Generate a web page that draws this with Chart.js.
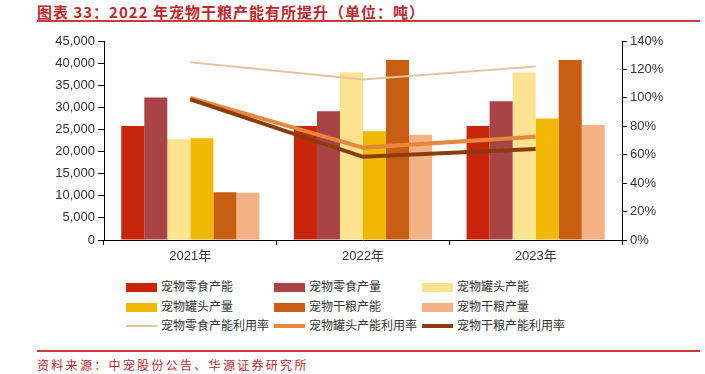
<!DOCTYPE html>
<html>
<head>
<meta charset="utf-8">
<script src="https://cdn.jsdelivr.net/npm/chart.js@4/dist/chart.umd.min.js"></script>
<style>
  body { margin: 0; background: #fff; width: 705px; height: 374px; position: relative; overflow: hidden;
         font-family: "Noto Sans CJK SC", "Liberation Sans", sans-serif; }
  #title { position: absolute; left: 37px; top: 1px; font-size: 15px; color: #c0282d; font-weight: bold; white-space: nowrap; letter-spacing: 1px; }
  .rule { position: absolute; left: 37px; width: 663px; height: 2px; background: #d0393c; }
  #source { position: absolute; left: 37px; top: 356px; font-size: 12px; color: #c0282d; white-space: nowrap; letter-spacing: 2.3px; }
  #wrap { position: absolute; left: 0; top: 25px; width: 705px; height: 240px; }
  .lg { position: absolute; font-size: 12px; color: #333; white-space: nowrap; line-height: 14px; }
  .sw { position: absolute; width: 31px; }
</style>
</head>
<body>
<div id="title">图表 33：2022 年宠物干粮产能有所提升（单位：吨）</div>
<div class="rule" style="top:20px"></div>
<div id="wrap"><canvas id="chart" width="705" height="240"></canvas></div>
<div id="legend"></div>
<div class="rule" style="top:350px"></div>
<div id="source">资料来源：中宠股份公告、华源证券研究所</div>
<script>
// categories and series (吨 / %)
const years = ['2021年', '2022年', '2023年'];
const snackCap = [25800, 25800, 25800];
const snackOut = [32200, 29100, 31400];
const canCap = [22800, 37900, 37900];
const canOut = [23000, 24600, 27500];
const dryCap = [10800, 40700, 40700];
const dryOut = [10700, 23800, 26000];
const snackRate = [1.25, 1.13, 1.22];
const canRate = [1.00, 0.65, 0.727];
const dryRate = [0.99, 0.585, 0.64];

const barNames = ['宠物零食产能', '宠物零食产量', '宠物罐头产能', '宠物罐头产量', '宠物干粮产能', '宠物干粮产量'];
const barData = [snackCap, snackOut, canCap, canOut, dryCap, dryOut];
const barColors = ['#c8250a', '#a84446', '#fde290', '#f0b800', '#c85e12', '#f5b183'];

const lineNames = ['宠物零食产能利用率', '宠物罐头产能利用率', '宠物干粮产能利用率'];
const lineData = [snackRate, canRate, dryRate];
const lineColors = ['#e2c69e', '#e8863a', '#8a3c0c'];
const lineWidths = [2, 4, 4];

const datasets = [];
barNames.forEach((name, i) => {
  datasets.push({
    label: name, data: barData[i], backgroundColor: barColors[i],
    yAxisID: 'y', order: 2, categoryPercentage: 0.8, barPercentage: 1.0
  });
});
lineNames.forEach((name, i) => {
  datasets.push({
    type: 'line', label: name, data: lineData[i], borderColor: lineColors[i],
    borderWidth: lineWidths[i], pointRadius: 0, tension: 0, yAxisID: 'y1', order: 1 - i * 0.1, fill: false
  });
});

const tickFont = { family: 'Liberation Sans', size: 13 };

new Chart(document.getElementById('chart').getContext('2d'), {
  type: 'bar',
  data: { labels: years, datasets: datasets },
  options: {
    responsive: false,
    animation: false,
    devicePixelRatio: 1,
    layout: { padding: { top: 16, left: 0, right: 0, bottom: 0 } },
    plugins: { legend: { display: false }, tooltip: { enabled: false } },
    scales: {
      x: {
        offset: true,
        grid: { display: true, drawOnChartArea: false, offset: true, tickLength: 5, color: '#000' },
        border: { color: '#000', width: 1 },
        ticks: { color: '#333', font: { family: "'Liberation Sans', 'Noto Sans CJK SC'", size: 13 }, padding: 4 },
        afterFit: s => { s.height = 25; }
      },
      y: {
        position: 'left', min: 0, max: 45000,
        grid: { drawOnChartArea: false, tickLength: 6, color: '#000' },
        border: { color: '#000', width: 1 },
        ticks: { stepSize: 5000, color: '#333', font: tickFont, padding: 3,
                 callback: v => v.toLocaleString('en-US') },
        afterFit: s => { s.width = 104; }
      },
      y1: {
        position: 'right', min: 0, max: 1.4,
        grid: { drawOnChartArea: false, tickLength: 5, color: '#000' },
        border: { color: '#000', width: 1 },
        ticks: { stepSize: 0.2, color: '#333', font: tickFont, padding: 3,
                 callback: v => Math.round(v * 100) + '%' },
        afterFit: s => { s.width = 83; }
      }
    }
  }
});

// legend, 3 columns
const legendItems = [];
barNames.forEach((n, i) => legendItems.push({ name: n, color: barColors[i], h: 9 }));
lineNames.forEach((n, i) => legendItems.push({ name: n, color: lineColors[i], h: i === 0 ? 2 : 4 }));
const colX = [126, 274, 422];
const rowY = [287, 307, 326];
let html = '';
legendItems.forEach((it, k) => {
  const cx = colX[k % 3], cy = rowY[Math.floor(k / 3)];
  html += '<div class="sw" style="left:' + cx + 'px;top:' + (cy - it.h / 2) + 'px;height:' + it.h + 'px;background:' + it.color + '"></div>';
  html += '<div class="lg" style="left:' + (cx + 35) + 'px;top:' + (cy - 8) + 'px">' + it.name + '</div>';
});
document.getElementById('legend').innerHTML = html;
</script>
</body>
</html>
